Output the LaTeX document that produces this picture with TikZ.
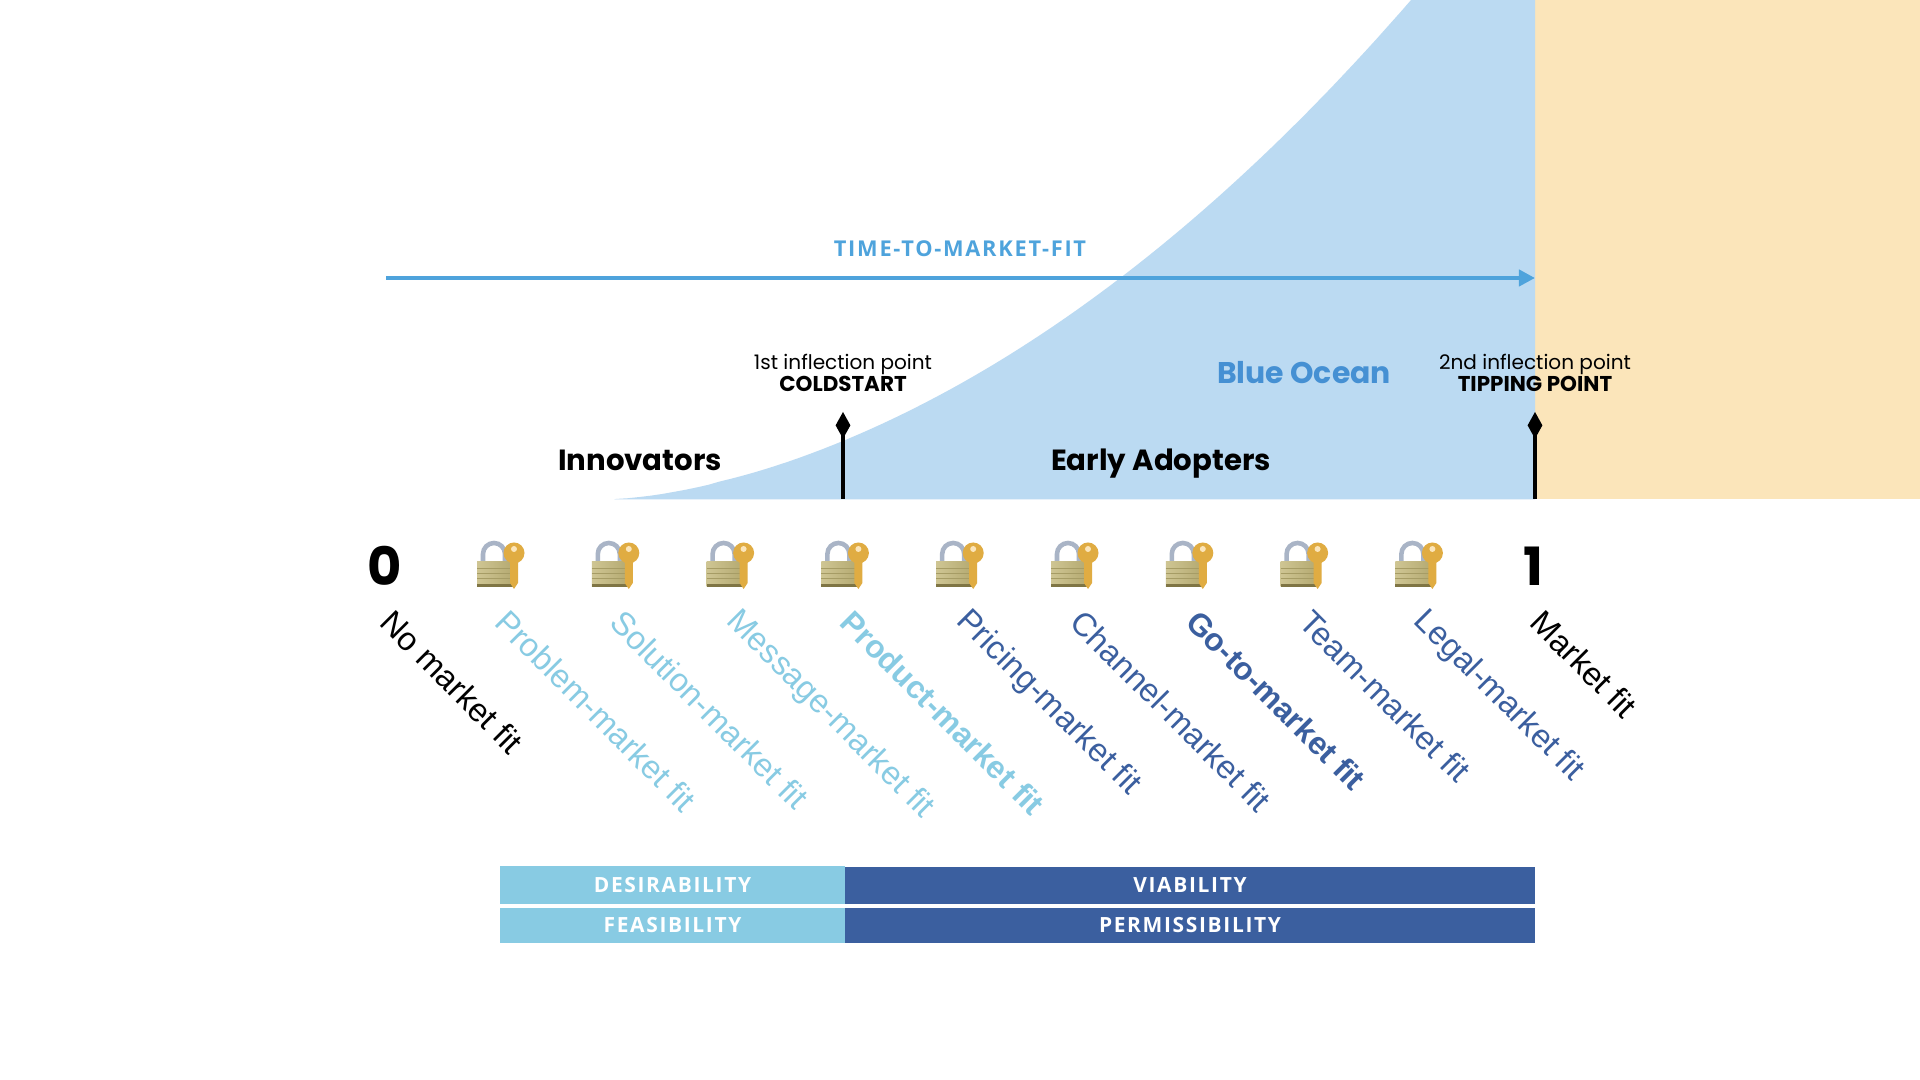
\documentclass[tikz,border=0pt]{standalone}
\usepackage{fontspec}
\setmainfont{Liberation Sans}
\newfontfamily\headfont{Poppins}
\newfontfamily\capsfont[LetterSpace=8]{Open Sans}
\usetikzlibrary{arrows.meta}
\definecolor{oceanblue}{HTML}{BBDAF2}
\definecolor{sandcol}{HTML}{FBE5BA}
\definecolor{arrowblue}{HTML}{4EA3DC}
\definecolor{titleblue}{HTML}{4590D3}
\definecolor{paleblue}{HTML}{88CBE3}
\definecolor{darkblue}{HTML}{3B5F9F}
\definecolor{keygold}{HTML}{E0AC42}
\definecolor{lockgold}{HTML}{C6BB80}
\definecolor{lockdark}{HTML}{7F7544}
\definecolor{shacklecol}{HTML}{A9B4C6}
\newcommand{\lblplain}{\fontsize{9.3}{11}\selectfont}
\newcommand{\lblbold}{\fontsize{9}{11}\selectfont\bfseries}
\tikzset{
  pinline/.style={line width=1.15pt, -{Diamond[length=7.6pt,width=4.2pt]}},
  pointlabel/.style={align=center, inner sep=0pt, font=\headfont\fontsize{5.7}{6.4}\selectfont},
  grouplabel/.style={anchor=base, inner sep=0pt, font=\headfont\fontsize{8.3}{10}\selectfont\bfseries},
  barbox/.style={inner sep=0pt, text=white, font=\capsfont\fontsize{5.95}{7}\selectfont\bfseries},
  endnum/.style={inner sep=0pt, font=\headfont\fontsize{15}{18}\selectfont\bfseries},
  lockkey/.pic={
    % shackle
    \draw[line width=1.3pt, color=shacklecol] (6,0) -- (6,-9) arc (180:360:11) -- (28,0);
    % body
    \shade[left color=lockgold!85!white, right color=lockgold!75!lockdark] (0,-1) rectangle (36,24);
    \fill[lockdark] (0,21.5) rectangle (36,24);
    \foreach \ty in {5,10,15} { \draw[lockdark!45!lockgold, line width=.15pt] (0,\ty) -- (36,\ty); }
    % key
    \fill[keygold] (37,-10) circle (10.5);
    \fill[keygold] (33,-2) -- (41,-2) -- (41,20) -- (37,26) -- (33,20) -- cycle;
    \fill[sandcol] (37,-14) circle (3);
  }
}
\begin{document}
\begin{tikzpicture}[x=0.01cm, y=-0.01cm]
  \useasboundingbox (0,0) rectangle (1920,1080);
  \fill[white] (0,0) rectangle (1920,1080);

  % Blue ocean and the region past the tipping point
  \fill[sandcol] (1535,0) rectangle (1920,499);
  \fill[oceanblue] (614,499.5) -- plot[domain=2:797, samples=70] ({614+\x},{499-499*(0.657*pow(\x/797,1.5)+0.343*pow(\x/797,2.5))}) -- (1535,0) -- (1535,499.5) -- cycle;

  % Time axis
  \coordinate (tstart) at (386,278);
  \coordinate (tend) at (1535,278);
  \draw[arrowblue, line width=1.15pt, -{Triangle[length=4.6pt,width=4.6pt]}] (tstart) -- (tend);
  \node[inner sep=0pt, text=arrowblue, font=\capsfont\fontsize{6.2}{7}\selectfont\bfseries] (ttitle) at (960,249) {TIME-TO-MARKET-FIT};

  % Inflection points
  \coordinate (pina) at (843,499);
  \coordinate (pinatop) at (843,412);
  \coordinate (pinb) at (1535,499);
  \coordinate (pinbtop) at (1535,412);
  \draw[pinline] (pina) -- (pinatop);
  \draw[pinline] (pinb) -- (pinbtop);
  \node[pointlabel] (coldstart) at (843,373) {1st inflection point\\{\fontsize{6.1}{6.4}\selectfont\bfseries COLDSTART}};
  \node[pointlabel] (tipping) at (1535,373) {2nd inflection point\\{\fontsize{6.1}{6.4}\selectfont\bfseries TIPPING POINT}};

  % Segment names
  \node[grouplabel] (innovators) at (640,471) {Innovators};
  \node[grouplabel] (adopters) at (1161,471) {Early Adopters};
  \node[inner sep=0pt, text=titleblue, font=\headfont\fontsize{8.5}{10}\selectfont\bfseries] (oceantitle) at (1304,373) {Blue Ocean};

  % Scale ends and locks
  \node[endnum] (zero) at (385,566) {0};
  \node[endnum] (one) at (1533,566) {1};
  \foreach \i in {0,...,8} {
    \pic at ({477+114.8*\i},563) {lockkey};
  }

  % Fit labels
  \foreach \i/\x/\y/\txt/\col/\fnt in {
    a/386/616/No market fit/black/\lblplain,
    b/501/616/Problem-market fit/paleblue/\lblplain,
    c/616/616/Solution-market fit/paleblue/\lblplain,
    d/731/616/Message-market fit/paleblue/\lblplain,
    e/846/616/Product-market fit/paleblue/\lblbold,
    f/961/616/Pricing-market fit/darkblue/\lblplain,
    g/1076/616/Channel-market fit/darkblue/\lblplain,
    h/1192/616/Go-to-market fit/darkblue/\lblbold,
    k/1305/616/Team-market fit/darkblue/\lblplain,
    l/1418/616/Legal-market fit/darkblue/\lblplain,
    m/1536/616/Market fit/black/\lblplain} {
    \node[anchor=west, inner sep=0pt, rotate=-45, text=\col, font=\fnt] (fit\i) at (\x,\y) {\txt};
  }

  % Bars
  \node[barbox, fill=paleblue, minimum width=3.45cm, minimum height=0.38cm] (desire) at (672.5,885) {DESIRABILITY};
  \node[barbox, fill=paleblue, minimum width=3.45cm, minimum height=0.35cm] (feasible) at (672.5,925.5) {FEASIBILITY};
  \node[barbox, fill=darkblue, minimum width=6.9cm, minimum height=0.37cm] (viable) at (1190,885.5) {VIABILITY};
  \node[barbox, fill=darkblue, minimum width=6.9cm, minimum height=0.35cm] (permit) at (1190,925.5) {PERMISSIBILITY};
\end{tikzpicture}
\end{document}
